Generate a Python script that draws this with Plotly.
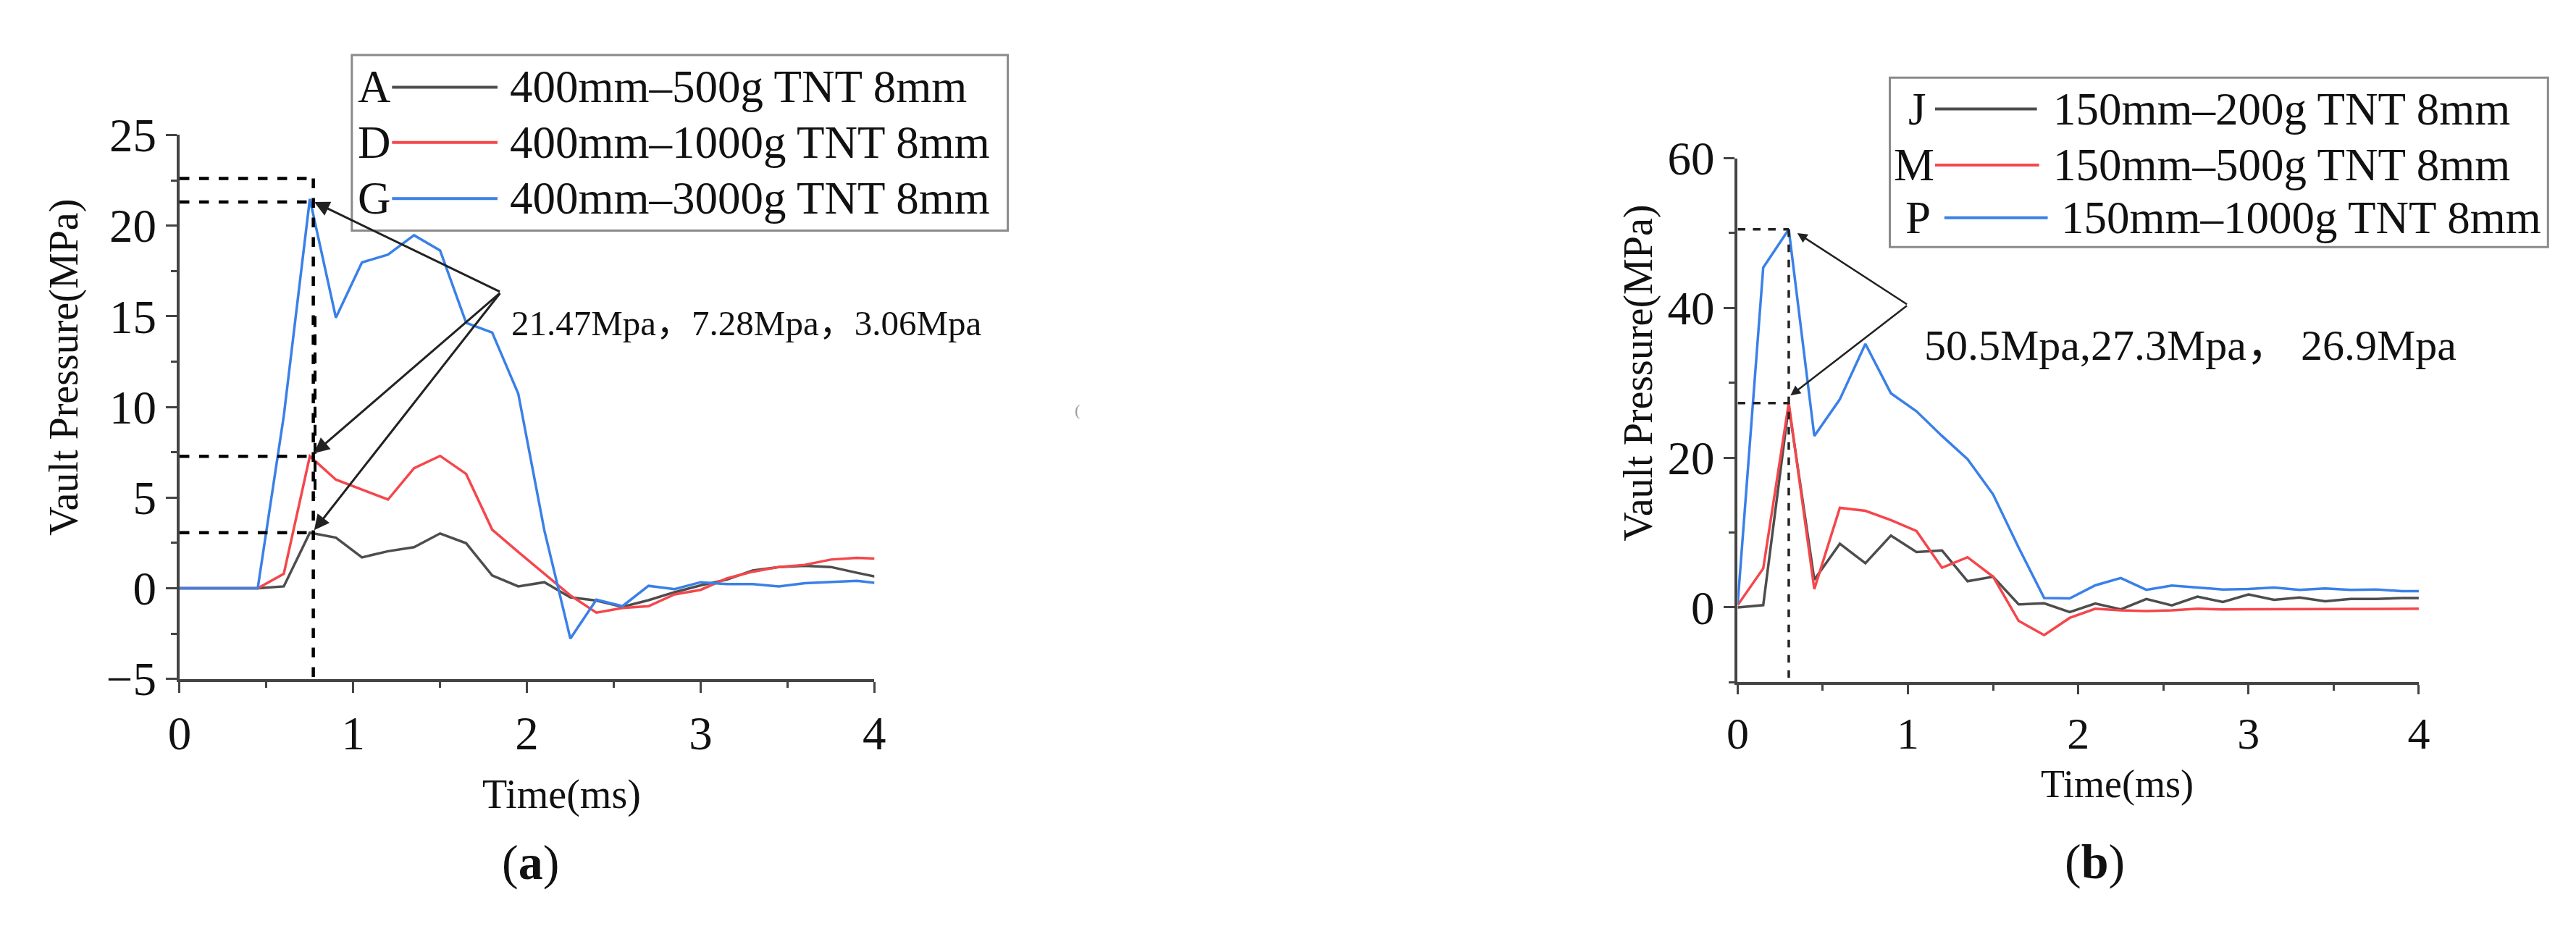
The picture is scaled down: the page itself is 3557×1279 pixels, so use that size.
import plotly.graph_objects as go

W, H = 3557, 1279

# ---------------- data ----------------
t_a = [round(0.15 * k, 2) for k in range(28)]
A_400_500 = [0, 0, 0, 0, 0.1, 3.06, 2.79, 1.70, 2.04, 2.26, 3.02, 2.48, 0.70, 0.10,
             0.33, -0.50, -0.68, -1.03, -0.66, -0.22, 0.16, 0.47, 0.98, 1.17, 1.24, 1.17, 0.85, 0.55]
D_400_1000 = [0, 0, 0, 0, 0.79, 7.28, 5.99, 5.45, 4.89, 6.62, 7.30, 6.30, 3.23, 2.00,
              0.80, -0.40, -1.35, -1.09, -0.99, -0.34, -0.09, 0.54, 0.91, 1.17, 1.29, 1.58, 1.67, 1.62]
G_400_3000 = [0, 0, 0, 0, 9.5, 21.47, 14.92, 17.97, 18.40, 19.47, 18.63, 14.64, 14.10, 10.73,
              3.20, -2.78, -0.63, -0.99, 0.13, -0.05, 0.33, 0.23, 0.23, 0.10, 0.28, 0.35, 0.41, 0.25]

t_b = [round(0.15 * k, 2) for k in range(28)]
J_150_200 = [0.0, 0.3, 26.9, 3.7, 8.5, 5.9, 9.6, 7.4, 7.6, 3.5, 4.1, 0.4, 0.55, -0.62,
             0.52, -0.27, 1.13, 0.27, 1.43, 0.73, 1.74, 1.02, 1.32, 0.82, 1.13, 1.13, 1.25, 1.25]
M_150_500 = [0.3, 5.2, 27.3, 2.45, 13.3, 12.9, 11.65, 10.2, 5.3, 6.7, 4.1, -1.8, -3.7, -1.4,
             -0.18, -0.39, -0.49, -0.39, -0.18, -0.27, -0.25, -0.25, -0.25, -0.22, -0.22, -0.2, -0.18, -0.18]
P_150_1000 = [0.5, 45.4, 50.5, 22.9, 27.8, 35.2, 28.6, 26.2, 22.9, 19.8, 15.1, 8.0, 1.25, 1.2,
              2.95, 3.93, 2.35, 2.92, 2.65, 2.40, 2.46, 2.65, 2.35, 2.53, 2.35, 2.40, 2.16, 2.16]

letters_a = ["A", "D", "G"]
names_a = ["400mm\u2013500g TNT 8mm", "400mm\u20131000g TNT 8mm", "400mm\u20133000g TNT 8mm"]
letters_b = ["J", "M", "P"]
names_b = ["150mm\u2013200g TNT 8mm", "150mm\u2013500g TNT 8mm", "150mm\u20131000g TNT 8mm"]

peaks_a = [21.47, 7.28, 3.06]
peaks_b = [50.5, 27.3, 26.9]
peak_label_a = "21.47Mpa\uff0c7.28Mpa\uff0c3.06Mpa"
peak_label_b = "50.5Mpa,27.3Mpa\uff0c 26.9Mpa"

x_ticks = [0, 1, 2, 3, 4]
y_ticks_a = [-5, 0, 5, 10, 15, 20, 25]
y_ticks_b = [0, 20, 40, 60]

# ---------------- style ----------------
C_BLACK = "#4d4d4d"
C_RED = "#f4474c"
C_BLUE = "#3a80e8"
colors = [C_BLACK, C_RED, C_BLUE]
SERIF = "Liberation Serif, Times New Roman, Noto Sans CJK SC, serif"
AX = "#444444"


def px(x):
    return x / W


def py(y):
    return 1 - y / H


fig = go.Figure()

for ys, nm, c in zip([A_400_500, D_400_1000, G_400_3000], names_a, colors):
    fig.add_trace(go.Scatter(x=t_a, y=ys, name=nm, mode="lines",
                             line=dict(color=c, width=3.5), showlegend=False,
                             xaxis="x", yaxis="y"))
for ys, nm, c in zip([J_150_200, M_150_500, P_150_1000], names_b, colors):
    fig.add_trace(go.Scatter(x=t_b, y=ys, name=nm, mode="lines",
                             line=dict(color=c, width=3.5), showlegend=False,
                             xaxis="x2", yaxis="y2"))


def xax(domain, anchor, fs, tl):
    return dict(domain=domain, anchor=anchor, range=[0, 4], tickvals=x_ticks,
                ticks="outside", ticklen=tl, tickwidth=3, tickcolor=AX,
                showline=True, linewidth=4, linecolor=AX, showgrid=False, zeroline=False,
                minor=dict(dtick=0.5, ticks="outside", ticklen=8, tickwidth=3, tickcolor=AX, showgrid=False),
                tickfont=dict(family=SERIF, size=fs, color="#111"))


def yax(domain, anchor, rng, tv, mdt):
    return dict(domain=domain, anchor=anchor, range=rng, tickvals=tv,
                ticks="outside", ticklen=15, tickwidth=3, tickcolor=AX,
                showline=True, linewidth=4, linecolor=AX, showgrid=False, zeroline=False,
                minor=dict(dtick=mdt, tick0=0, ticks="outside", ticklen=8, tickwidth=3, tickcolor=AX, showgrid=False),
                tickfont=dict(family=SERIF, size=65, color="#111"))


fig.update_layout(
    width=W, height=H, margin=dict(l=0, r=0, t=0, b=0),
    paper_bgcolor="white", plot_bgcolor="white", showlegend=False,
    xaxis=xax([px(226), px(1194)], "y", 65, 15),
    yaxis=yax([py(948), py(152)], "x", [-5, 25], y_ticks_a, 2.5),
    xaxis2=xax([px(2397), px(3346)], "y2", 62, 13),
    yaxis2=yax([py(953), py(186)], "x2", [-10, 60], y_ticks_b, 10),
)

shapes = []
annos = []

# ---------- guide dashes panel a ----------
gx_a = 0.77
top_a = 22.6
dash_a = dict(color="black", width=4.5, dash="dash")
shapes.append(dict(type="line", xref="x", yref="y", x0=0, x1=gx_a, y0=top_a, y1=top_a, line=dash_a))
shapes.append(dict(type="line", xref="x", yref="y", x0=gx_a, x1=gx_a, y0=top_a, y1=-5, line=dash_a))
shapes.append(dict(type="line", xref="x", yref="y", x0=gx_a + 0.01, x1=gx_a + 0.01, y0=15, y1=5,
                   line=dict(color="black", width=4, dash="15px,10px")))
for pk in [21.3, peaks_a[1], peaks_a[2]]:
    shapes.append(dict(type="line", xref="x", yref="y", x0=0, x1=gx_a, y0=pk, y1=pk, line=dash_a))

# arrows panel a
apex_a = (1.85, 16.33)
for tip in [(0.775, 21.3), (0.775, 7.45), (0.775, 3.2)]:
    annos.append(dict(x=tip[0], y=tip[1], xref="x", yref="y", ax=apex_a[0], ay=apex_a[1],
                      axref="x", ayref="y", text="", showarrow=True, arrowhead=2,
                      arrowsize=1.4, arrowwidth=3, arrowcolor="#222", standoff=0))

annos.append(dict(x=px(686), y=py(428), xref="paper", yref="paper", text=peak_label_a,
                  showarrow=False, xanchor="left", yanchor="middle",
                  font=dict(family=SERIF, size=49, color="#111")))

# ---------- guide dashes panel b ----------
gx_b = 0.30
dash_b = dict(color="#222", width=3.5, dash="dash")
shapes.append(dict(type="line", xref="x2", yref="y2", x0=gx_b, x1=gx_b, y0=peaks_b[0], y1=-10, line=dash_b))
for pk in peaks_b[:2]:
    shapes.append(dict(type="line", xref="x2", yref="y2", x0=0, x1=gx_b, y0=pk, y1=pk, line=dash_b))

apex_b = (1.0, 40.4)
for tip in [(0.35, 50.0), (0.31, 28.3)]:
    annos.append(dict(x=tip[0], y=tip[1], xref="x2", yref="y2", ax=apex_b[0], ay=apex_b[1],
                      axref="x2", ayref="y2", text="", showarrow=True, arrowhead=2,
                      arrowsize=1.1, arrowwidth=2.5, arrowcolor="#222", standoff=0))

annos.append(dict(x=px(2655), y=py(460), xref="paper", yref="paper", text=peak_label_b,
                  showarrow=False, xanchor="left", yanchor="middle",
                  font=dict(family=SERIF, size=60, color="#111")))

# ---------- custom legends ----------
def legend(box, rows, letter_x, line_x, text_x, letters, names):
    shapes.append(dict(type="rect", xref="paper", yref="paper",
                       x0=px(box[0]), x1=px(box[1]), y0=py(box[3]), y1=py(box[2]),
                       line=dict(color="#8a8a8a", width=3), fillcolor="white", layer="above"))
    for i in range(3):
        yy = rows[i]
        annos.append(dict(x=px(letter_x[i]), y=py(yy), xref="paper", yref="paper",
                          text=letters[i], showarrow=False, xanchor="left", yanchor="middle",
                          font=dict(family=SERIF, size=63, color="#111")))
        shapes.append(dict(type="line", xref="paper", yref="paper",
                           x0=px(line_x[i][0]), x1=px(line_x[i][1]), y0=py(yy), y1=py(yy),
                           line=dict(color=colors[i], width=4), layer="above"))
        annos.append(dict(x=px(text_x[i]), y=py(yy), xref="paper", yref="paper",
                          text=names[i], showarrow=False, xanchor="left", yanchor="middle",
                          font=dict(family=SERIF, size=63, color="#111")))


legend((466, 1380, 35, 292), [82, 163, 245], [472, 472, 472],
       [(522, 669), (522, 669), (522, 669)], [684, 684, 684], letters_a, names_a)
legend((2609, 3526, 68, 316), [114, 196, 273], [2633, 2612, 2629],
       [(2672, 2814), (2672, 2817), (2685, 2829)], [2835, 2835, 2846], letters_b, names_b)

# ---------- axis titles & panel labels ----------
def label(x, y, text, size, angle=0):
    annos.append(dict(x=px(x), y=py(y), xref="paper", yref="paper", text=text,
                      showarrow=False, xanchor="center", yanchor="middle", textangle=angle,
                      font=dict(family=SERIF, size=size, color="#111")))


label(65, 492, "Vault Pressure(MPa)", 56, -90)
label(758, 1117, "Time(ms)", 56)
label(715, 1217, "(<b>a</b>)", 68)
label(2259, 500, "Vault Pressure(MPa)", 56, -90)
label(2926, 1102, "Time(ms)", 54)
label(2895, 1215, "(<b>b</b>)", 68)
annos.append(dict(x=px(1477), y=py(555), xref="paper", yref="paper", text="(",
                  showarrow=False, font=dict(family=SERIF, size=22, color="#999")))

fig.update_layout(shapes=shapes, annotations=annos)
fig.write_html("out.html")
